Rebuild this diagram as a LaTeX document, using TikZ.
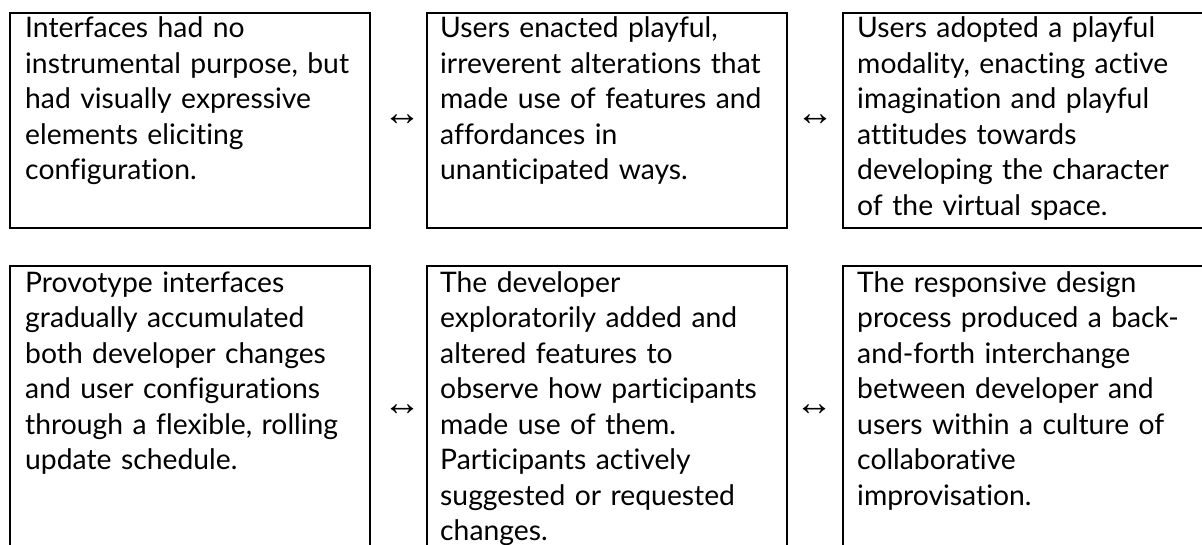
\documentclass[tikz,border=0pt]{standalone}
\usepackage{fontspec}
\setmainfont{Lato}[Ligatures={NoCommon,NoRequired,NoContextual}]
\newfontfamily\arrowfont{Liberation Sans}
\tikzset{
  panel/.style={draw=black, line width=2pt, rectangle, inner sep=0pt, anchor=north west, minimum width=360pt},
  toprow/.style={minimum height=215pt},
  botrow/.style={minimum height=292pt},
  txt/.style={anchor=base west, inner sep=0pt, align=left, text width=345pt,
    font=\fontsize{28.3}{35.5}\selectfont, text=black},
  arr/.style={inner sep=0pt, font=\arrowfont\fontsize{38}{38}\selectfont}
}
\begin{document}
\begin{tikzpicture}[x=1pt, y=-1pt]
\useasboundingbox (0,0) rectangle (1202,544);
\clip (0,0) rectangle (1202,544);
% top row
\node[panel, toprow] (b1) at (9,12) {};
\node[panel, toprow] (b2) at (426,12) {};
\node[panel, toprow, minimum width=364pt] (b3) at (842,12) {};
% bottom row
\node[panel, botrow] (b4) at (9,265) {};
\node[panel, botrow] (b5) at (426,265) {};
\node[panel, botrow, minimum width=364pt] (b6) at (842,265) {};
% texts
\node[txt] (t1) at ([xshift=16pt,yshift=-25.5pt]b1.north west) {Interfaces had no\\instrumental purpose, but\\had visually expressive\\elements eliciting\\configuration.};
\node[txt] (t2) at ([xshift=14pt,yshift=-25.5pt]b2.north west) {Users enacted playful,\\irreverent alterations that\\made use of features and\\affordances in\\unanticipated ways.};
\node[txt] (t3) at ([xshift=15pt,yshift=-25.5pt]b3.north west) {Users adopted a playful\\modality, enacting active\\imagination and playful\\attitudes towards\\developing the character\\of the virtual space.};
\node[txt] (t4) at ([xshift=16pt,yshift=-27pt]b4.north west) {Provotype interfaces\\gradually accumulated\\both developer changes\\and user configurations\\through a flexible, rolling\\update schedule.};
\node[txt] (t5) at ([xshift=14pt,yshift=-27pt]b5.north west) {The developer\\exploratorily added and\\altered features to\\observe how participants\\made use of them.\\Participants actively\\suggested or requested\\changes.};
\node[txt] (t6) at ([xshift=15pt,yshift=-27pt]b6.north west) {The responsive design\\process produced a back-\\and-forth interchange\\between developer and\\users within a culture of\\collaborative\\improvisation.};
% double arrows
\node[arr] (a1) at (402,120) {↔};
\node[arr] (a2) at (815,120) {↔};
\node[arr] (a3) at (402,410) {↔};
\node[arr] (a4) at (814,410) {↔};
\end{tikzpicture}
\end{document}
